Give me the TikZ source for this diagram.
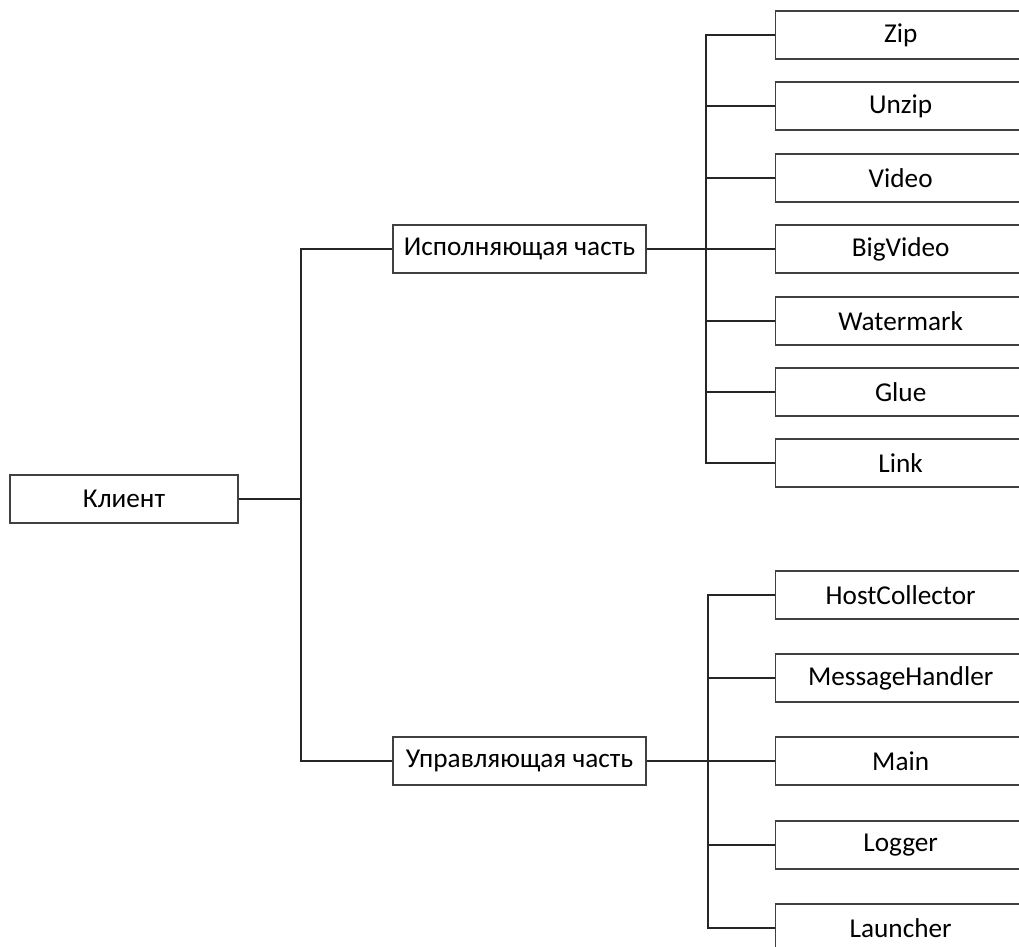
\documentclass[tikz,border=0pt]{standalone}
\usepackage{fontspec}
\setmainfont{Carlito}
\usetikzlibrary{positioning}

\begin{document}
\begin{tikzpicture}[x=0.02cm, y=-0.02cm, font=\fontsize{15.5}{17}\selectfont,
    box/.style={draw=black!75, line width=0.8pt, fill=white, minimum height=0.96cm, inner sep=0pt},
    leaf/.style={box, anchor=west, minimum width=5cm},
    link/.style={draw=black!85, line width=0.8pt}]
    % Frame
    \useasboundingbox (0,0) rectangle (1019,947);
    \clip (0,0) rectangle (1019,947);

    % Root and parts
    \node[box, minimum width=4.56cm] (client) at (124,499) {Клиент};
    \node[box, minimum width=5.06cm] (exec) at (519.5,249) {Исполняющая часть};
    \node[box, minimum width=5.06cm] (ctrl) at (519.5,761) {Управляющая часть};

    % Executing part modules
    \node[leaf] (zip) at (775,35) {Zip};
    \node[leaf] (unzip) at (775,106) {Unzip};
    \node[leaf] (video) at (775,178) {Video};
    \node[leaf] (bigvideo) at (775,249) {BigVideo};
    \node[leaf] (watermark) at (775,321) {Watermark};
    \node[leaf] (glue) at (775,392) {Glue};
    \node[leaf] (link) at (775,463) {Link};

    % Control part modules
    \node[leaf] (host) at (775,595) {HostCollector};
    \node[leaf] (msg) at (775,678) {MessageHandler};
    \node[leaf] (main) at (775,761) {Main};
    \node[leaf] (logger) at (775,845) {Logger};
    \node[leaf] (launcher) at (775,928) {Launcher};

    % Bus points
    \coordinate (trunk) at (301,499);
    \coordinate (busexec) at (706,249);
    \coordinate (busctrl) at (708,761);

    % Root connections
    \draw[link] (client) -- (trunk);
    \draw[link] (trunk) |- (exec);
    \draw[link] (trunk) |- (ctrl);

    % Executing part connections
    \draw[link, line width=1.1pt] (exec) -- (busexec);
    \foreach \n in {zip,unzip,video,bigvideo,watermark,glue,link}
        \draw[link] (busexec) |- (\n.west);

    % Control part connections
    \draw[link, line width=1.1pt] (ctrl) -- (busctrl);
    \foreach \n in {host,msg,main,logger,launcher}
        \draw[link] (busctrl) |- (\n.west);
\end{tikzpicture}
\end{document}
